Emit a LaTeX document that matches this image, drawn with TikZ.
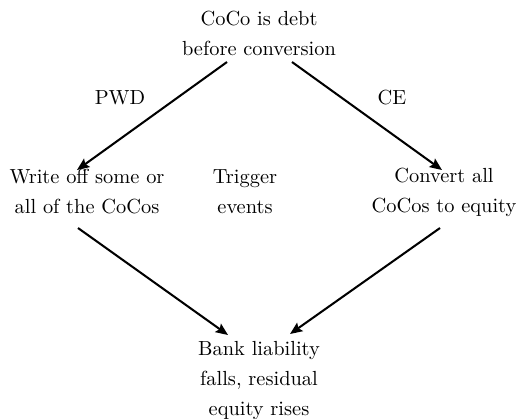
\documentclass[tikz,border=0pt]{standalone}
\usetikzlibrary{arrows.meta}
\begin{document}
\begin{tikzpicture}[x=0.49pt,y=-0.49pt,
  lbl/.style={align=center,inner sep=0pt,font=\fontsize{10}{14.7}\selectfont},
  arr/.style={line width=1pt,-{Stealth[length=6pt,width=5pt,inset=1pt]}}]
\useasboundingbox (0,0) rectangle (529,418);
\node[lbl] (top) at (259,33) {CoCo is debt\\before conversion};
\node[lbl] (left) at (87,192) {Write off some or\\all of the CoCos};
\node[lbl] (mid) at (245,192) {Trigger\\events};
\node[lbl] (right) at (444,192) {Convert all\\CoCos to equity};
\node[lbl] (bot) at (259,380) {Bank liability\\falls, residual\\equity rises};
\node[lbl] (pwd) at (120,98) {PWD};
\node[lbl] (ce) at (392,98) {CE};
\coordinate (a1) at (227,62); \coordinate (a2) at (77,170);
\coordinate (b1) at (292,62); \coordinate (b2) at (442,170);
\coordinate (c1) at (78,228); \coordinate (c2) at (228,335);
\coordinate (d1) at (440,228); \coordinate (d2) at (290,334);
\draw[arr] (a1) -- (a2);
\draw[arr] (b1) -- (b2);
\draw[arr] (c1) -- (c2);
\draw[arr] (d1) -- (d2);
\end{tikzpicture}
\end{document}
